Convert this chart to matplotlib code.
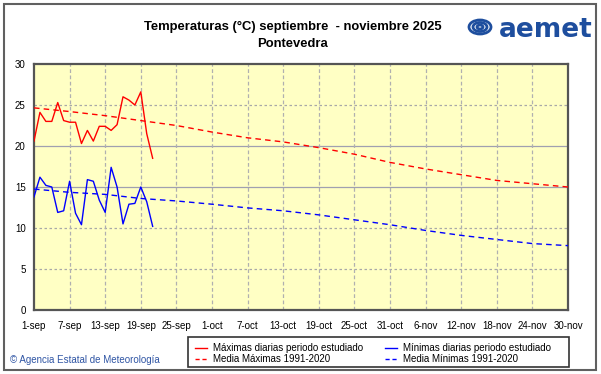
import matplotlib
matplotlib.use("Agg")
import matplotlib.pyplot as plt
from matplotlib.patches import Rectangle, Ellipse
import pandas as pd

plt.rcParams['font.family'] = ['Liberation Sans', 'DejaVu Sans']

# daily values of the studied period (1-sep onwards)
tmax = [20.6, 24.1, 23.0, 23.0, 25.3, 23.1, 22.9, 22.9, 20.3, 21.9, 20.6,
        22.4, 22.4, 21.9, 22.6, 26.0, 25.6, 25.0, 26.6, 21.5, 18.5]
tmin = [13.8, 16.2, 15.2, 15.0, 11.9, 12.1, 15.7, 11.8, 10.4, 15.9, 15.7,
        13.4, 11.9, 17.4, 15.0, 10.5, 12.9, 13.0, 15.0, 13.2, 10.2]

# 1991-2020 normals, read every 6 days
tick_labels = ['1-sep', '7-sep', '13-sep', '19-sep', '25-sep', '1-oct', '7-oct',
               '13-oct', '19-oct', '25-oct', '31-oct', '6-nov', '12-nov',
               '18-nov', '24-nov', '30-nov']
mean_max = [24.65, 24.2, 23.7, 23.1, 22.5, 21.7, 21.0, 20.5, 19.8, 19.0, 18.0,
            17.2, 16.5, 15.8, 15.4, 15.0]
mean_min = [14.75, 14.35, 14.1, 13.6, 13.3, 12.9, 12.45, 12.1, 11.6, 11.0, 10.4,
            9.7, 9.1, 8.6, 8.1, 7.85]

days = pd.date_range('2025-09-01', periods=len(tmax), freq='D')
tick_dates = pd.date_range('2025-09-01', '2025-11-30', freq='6D')

fig = plt.figure(figsize=(6.01, 3.74), dpi=100)
fig.patch.set_facecolor('white')

# outer frame
fig.patches.append(Rectangle((4 / 601, 4 / 374), 592 / 601, 366 / 374,
                             transform=fig.transFigure, fill=False,
                             edgecolor='#606060', lw=1.5))

ax = fig.add_axes([34 / 601, 64 / 374, 534 / 601, 246 / 374])
ax.set_facecolor('#FFFFC4')

for v in [5, 10, 25]:
    ax.axhline(v, color='#A8A8A8', lw=0.9, ls=(0, (2, 2)), zorder=1)
for v in [15, 20]:
    ax.axhline(v, color='#A0A0B0', lw=0.9, zorder=1)
for d in tick_dates[1:-1]:
    ax.axvline(d, color='#B0B0B0', lw=0.9, ls=(0, (3, 2)), zorder=1)

ax.plot(tick_dates, mean_max, color='#FF0000', lw=1, ls=(0, (4, 3)), zorder=3)
ax.plot(tick_dates, mean_min, color='#0000FF', lw=1, ls=(0, (4, 3)), zorder=3)
ax.plot(days, tmax, color='#FF0000', lw=1, zorder=4)
ax.plot(days, tmin, color='#0000FF', lw=1, zorder=4)

ax.set_xlim(tick_dates[0], tick_dates[-1])
ax.set_ylim(0, 30)
ax.set_yticks(range(0, 31, 5))
ax.set_xticks(tick_dates)
ax.set_xticklabels(tick_labels)
ax.tick_params(length=0, labelsize=7, pad=8)
ax.tick_params(axis='y', pad=6)
for s in ax.spines.values():
    s.set_color('#555555')
    s.set_linewidth(1.6)

# title
fig.text(293 / 601, 1 - 27 / 374, 'Temperaturas (\u00b0C) septiembre  - noviembre 2025',
         ha='center', va='center', fontsize=9.4, fontweight='bold')
fig.text(293 / 601, 1 - 44 / 374, 'Pontevedra', ha='center', va='center',
         fontsize=9.4, fontweight='bold')

# aemet logo (approximation)
logo = '#1E4E9E'
fig.text(593 / 601, 1 - 30 / 374, 'aemet', ha='right', va='center',
         fontsize=19, fontweight='bold', color=logo, family='DejaVu Sans')
for w, h in [(22, 14), (14, 9), (6, 4)]:
    fig.patches.append(Ellipse((480 / 601, 1 - 27 / 374), w / 601, h / 374,
                               transform=fig.transFigure, fill=False,
                               edgecolor=logo, lw=2))

# copyright
fig.text(10 / 601, 1 - 360 / 374, '\u00a9 Agencia Estatal de Meteorolog\u00eda',
         ha='left', va='center', fontsize=7, color='#2F55A4')

# legend box
fig.patches.append(Rectangle((188 / 601, 1 - 367 / 374), 381 / 601, 30 / 374,
                             transform=fig.transFigure, facecolor='white',
                             edgecolor='#333333', lw=1.2))
entries = [
    (195, 348, '#FF0000', '-', 'M\u00e1ximas diarias periodo estudiado'),
    (195, 359, '#FF0000', '--', 'Media M\u00e1ximas 1991-2020'),
    (385, 348, '#0000FF', '-', 'M\u00ednimas diarias periodo estudiado'),
    (385, 359, '#0000FF', '--', 'Media M\u00ednimas 1991-2020'),
]
for x0, y0, c, ls, label in entries:
    fig.lines.append(plt.Line2D([x0 / 601, (x0 + 12) / 601], [1 - y0 / 374] * 2,
                                transform=fig.transFigure, color=c, lw=1,
                                ls=(0, (3, 2)) if ls == '--' else '-'))
    fig.text((x0 + 18) / 601, 1 - y0 / 374, label, ha='left', va='center',
             fontsize=7, color='#000000')

fig.savefig('out.png', dpi=100)
